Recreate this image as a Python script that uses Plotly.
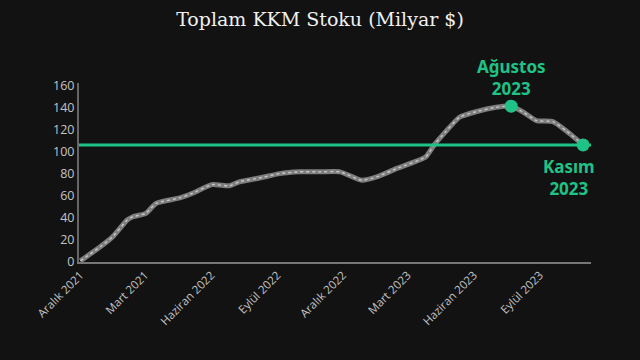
import plotly.graph_objects as go

dates = ["2021-12-20", "2022-01-17", "2022-02-03", "2022-02-23", "2022-03-03", "2022-03-21",
         "2022-04-04", "2022-05-07", "2022-05-24", "2022-06-21", "2022-07-15", "2022-07-29",
         "2022-08-26", "2022-09-23", "2022-10-21", "2022-11-18", "2022-12-16", "2023-01-15",
         "2023-02-05", "2023-03-05", "2023-04-14", "2023-04-26", "2023-05-12", "2023-05-31",
         "2023-06-23", "2023-07-21", "2023-08-11", "2023-08-27", "2023-09-15", "2023-10-08",
         "2023-10-26", "2023-11-19"]
stock = [1, 14, 23, 38, 41, 44, 53, 58, 62, 70, 69, 72.6, 76, 80, 81.6, 81.6, 81.6, 74,
         77, 84.7, 95, 106, 118, 131, 136, 140, 141, 136, 128, 127, 119, 106]

tick_dates = ["2021-12-20", "2022-03-20", "2022-06-20", "2022-09-20", "2022-12-20",
              "2023-03-20", "2023-06-20", "2023-09-20"]
tick_labels = ["Aralık 2021", "Mart 2021", "Haziran 2022", "Eylül 2022", "Aralık 2022",
               "Mart 2023", "Haziran 2023", "Eylül 2023"]

ref_level = 106
hl_dates = ["2023-08-11", "2023-11-19"]
hl_values = [141, 106]
hl_labels = ["Ağustos<br>2023", "Kasım<br>2023"]

GREEN = "#1fc287"
BG = "#121212"

fig = go.Figure()
fig.add_trace(go.Scatter(x=dates, y=stock, mode="lines",
                         line=dict(color="#7e7e7e", width=5, shape="spline", smoothing=0.5),
                         hoverinfo="skip", showlegend=False))
fig.add_trace(go.Scatter(x=dates, y=stock, mode="lines",
                         line=dict(color="#c8c8c8", width=1.4, dash="dot", shape="spline", smoothing=0.5),
                         hoverinfo="skip", showlegend=False))
fig.add_hline(y=ref_level, line=dict(color=GREEN, width=3))
fig.add_trace(go.Scatter(x=hl_dates, y=hl_values, mode="markers",
                         marker=dict(color=GREEN, size=13), showlegend=False))

fig.add_annotation(x=hl_dates[0], y=hl_values[0], text="<b>" + hl_labels[0] + "</b>",
                   showarrow=False, yshift=29, font=dict(color=GREEN, size=17, family="Noto Sans"),
                   align="center")
fig.add_annotation(x=hl_dates[1], y=hl_values[1], text="<b>" + hl_labels[1] + "</b>",
                   showarrow=False, yshift=-33, xshift=-14, font=dict(color=GREEN, size=17, family="Noto Sans"),
                   align="center")

fig.update_layout(
    width=640, height=360,
    paper_bgcolor=BG, plot_bgcolor=BG,
    margin=dict(l=79, r=49, t=83, b=98),
    title=dict(text="Toplam KKM Stoku (Milyar $)", x=0.5, xanchor="center", y=0.945, yanchor="middle",
               font=dict(family="DejaVu Serif", size=19, color="#f0f0f0")),
    xaxis=dict(type="date", range=["2021-12-18", "2023-11-30"], tickvals=tick_dates, ticktext=tick_labels,
               tickangle=-45, showgrid=False, zeroline=False, showline=True, linecolor="#777777", linewidth=2,
               ticks="", tickfont=dict(color="#c4c4c4", size=11.5, family="Open Sans")),
    yaxis=dict(range=[0, 162], tickvals=[0, 20, 40, 60, 80, 100, 120, 140, 160], showgrid=False,
               zeroline=False, showline=True, linecolor="#666666", linewidth=2, ticks="",
               tickfont=dict(color="#c4c4c4", size=12.5, family="Open Sans")),
)

fig.write_html("out.html")
